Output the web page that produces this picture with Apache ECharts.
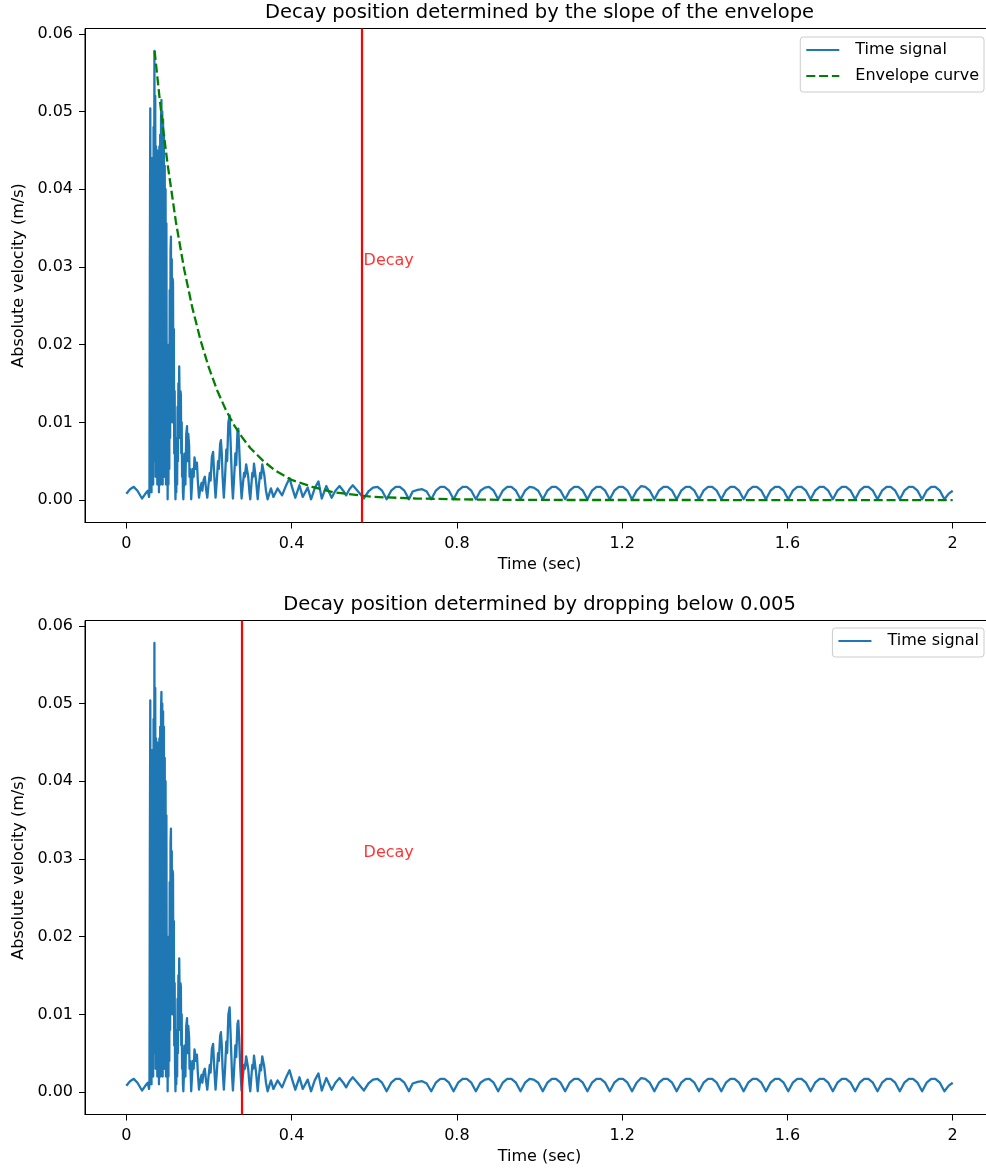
<!DOCTYPE html>
<html>
<head>
<meta charset="utf-8">
<title>Decay position</title>
<script src="https://cdn.jsdelivr.net/npm/echarts@6/dist/echarts.min.js"></script>
<style>
  html, body { margin: 0; padding: 0; background: #fff; }
  #chart { width: 986px; height: 1168px; }
</style>
</head>
<body>
<div id="chart"></div>
<script>
  // tick labels
  const timeTicks = [0, 0.4, 0.8, 1.2, 1.6, 2];
  const velocityTicks = [0, 0.01, 0.02, 0.03, 0.04, 0.05, 0.06];

  // decay positions (sec) and where the "Decay" text sits
  const slopeDecayTime = 0.573;
  const thresholdDecayTime = 0.278;
  const decayLabelPoint = [0.573, 0.03];

  // time signal, [t, |v|]
  const preImpactSignal = [
    [0.000, 0.0008], [0.009, 0.0014], [0.018, 0.0017], [0.027, 0.0012], [0.038, 0.0002],
    [0.046, 0.0008], [0.052, 0.0012], [0.055, 0.0004]
  ];
  const impactSignal = [
    [0.056, 0.0010], [0.057, 0.0300], [0.058, 0.0504], [0.059, 0.0030], [0.060, 0.0400],
    [0.061, 0.0010], [0.062, 0.0440], [0.063, 0.0060], [0.064, 0.0416], [0.065, 0.0020],
    [0.066, 0.0480], [0.067, 0.0050], [0.068, 0.0578], [0.069, 0.0100], [0.070, 0.0520],
    [0.071, 0.0030], [0.072, 0.0455], [0.073, 0.0080], [0.074, 0.0450], [0.075, 0.0020],
    [0.076, 0.0440], [0.077, 0.0060], [0.078, 0.0450], [0.079, 0.0010], [0.080, 0.0455],
    [0.081, 0.0070], [0.082, 0.0470], [0.083, 0.0020], [0.084, 0.0490], [0.085, 0.0515],
    [0.086, 0.0040], [0.087, 0.0500], [0.088, 0.0020], [0.089, 0.0490], [0.090, 0.0080],
    [0.091, 0.0470], [0.092, 0.0030], [0.093, 0.0430], [0.094, 0.0060], [0.095, 0.0400],
    [0.096, 0.0020], [0.097, 0.0356], [0.098, 0.0050], [0.099, 0.0200], [0.100, 0.0001],
    [0.101, 0.0100], [0.102, 0.0020], [0.103, 0.0200], [0.104, 0.0040], [0.105, 0.0270],
    [0.106, 0.0080], [0.107, 0.0320], [0.108, 0.0339], [0.109, 0.0150], [0.110, 0.0310],
    [0.111, 0.0100], [0.112, 0.0285], [0.113, 0.0280], [0.114, 0.0120], [0.115, 0.0220],
    [0.116, 0.0060], [0.117, 0.0140], [0.118, 0.0030], [0.119, 0.0001],
    [0.120, 0.0040], [0.121, 0.0010], [0.122, 0.0080], [0.123, 0.0020], [0.124, 0.0120],
    [0.125, 0.0050], [0.126, 0.0150], [0.127, 0.0080], [0.128, 0.0172], [0.129, 0.0170],
    [0.130, 0.0080], [0.131, 0.0140], [0.132, 0.0136], [0.133, 0.0060], [0.134, 0.0100],
    [0.135, 0.0030], [0.136, 0.0060], [0.137, 0.0010], [0.138, 0.0001],
    [0.140, 0.0030], [0.142, 0.0060], [0.143, 0.0020], [0.145, 0.0085], [0.147, 0.0095],
    [0.148, 0.0050], [0.150, 0.0085], [0.152, 0.0070], [0.153, 0.0030], [0.155, 0.0040],
    [0.157, 0.0001],
    [0.159, 0.0020], [0.161, 0.0040], [0.163, 0.0030], [0.165, 0.0055], [0.167, 0.0057],
    [0.169, 0.0040], [0.171, 0.0048], [0.173, 0.0025], [0.175, 0.0010], [0.176, 0.0003],
    [0.179, 0.0015], [0.182, 0.0022], [0.184, 0.0012], [0.187, 0.0026], [0.190, 0.0030],
    [0.193, 0.0014], [0.196, 0.0003],
    [0.199, 0.0020], [0.202, 0.0035], [0.204, 0.0025], [0.207, 0.0055], [0.210, 0.0062],
    [0.212, 0.0040], [0.214, 0.0020], [0.216, 0.0003],
    [0.219, 0.0025], [0.222, 0.0050], [0.224, 0.0040], [0.227, 0.0072], [0.229, 0.0077],
    [0.231, 0.0060], [0.233, 0.0030], [0.236, 0.0003],
    [0.239, 0.0030], [0.242, 0.0065], [0.244, 0.0050], [0.247, 0.0100], [0.250, 0.0109],
    [0.252, 0.0080], [0.254, 0.0050], [0.256, 0.0020], [0.258, 0.0002],
    [0.261, 0.0030], [0.264, 0.0060], [0.266, 0.0045], [0.269, 0.0088], [0.271, 0.0092],
    [0.273, 0.0070], [0.276, 0.0030], [0.279, 0.0002],
    [0.282, 0.0020], [0.285, 0.0035], [0.287, 0.0030], [0.290, 0.0046], [0.292, 0.0048],
    [0.295, 0.0030], [0.298, 0.0010], [0.300, 0.0001],
    [0.303, 0.0022], [0.305, 0.0035], [0.307, 0.0030], [0.309, 0.0047], [0.311, 0.0049],
    [0.314, 0.0025], [0.318, 0.0001],
    [0.321, 0.0020], [0.324, 0.0035], [0.326, 0.0028], [0.329, 0.0046], [0.331, 0.0048],
    [0.334, 0.0032], [0.338, 0.0012], [0.342, 0.0001]
  ];
  const ringOutSignal = [
    [0.350, 0.0015], [0.356, 0.0004], [0.366, 0.0015], [0.377, 0.0006], [0.386, 0.0018],
    [0.395, 0.0028], [0.402, 0.0015], [0.409, 0.0003], [0.419, 0.0019], [0.427, 0.0004],
    [0.439, 0.0016], [0.447, 0.0001], [0.456, 0.0015], [0.465, 0.0024], [0.473, 0.0002],
    [0.484, 0.0018], [0.497, 0.0003], [0.506, 0.0012], [0.516, 0.0018], [0.525, 0.0012],
    [0.532, 0.0006], [0.540, 0.0014], [0.548, 0.0019], [0.558, 0.0013]
  ];
  const tailSignal = [
    [0.575, 0.0002], [0.586, 0.0011], [0.597, 0.0016], [0.608, 0.0017], [0.619, 0.0012],
    [0.630, 0.0001], [0.641, 0.0012], [0.652, 0.0017], [0.662, 0.0017], [0.673, 0.0012],
    [0.684, 0.0001], [0.693, 0.0011], [0.705, 0.0013], [0.716, 0.0014], [0.727, 0.0011],
    [0.738, 0.0001], [0.749, 0.0012], [0.760, 0.0017], [0.770, 0.0017], [0.781, 0.0012],
    [0.792, 0.0001], [0.803, 0.0012], [0.814, 0.0017], [0.824, 0.0017], [0.835, 0.0012],
    [0.846, 0.0001], [0.857, 0.0012], [0.868, 0.0016], [0.878, 0.0017], [0.889, 0.0012],
    [0.900, 0.0001], [0.911, 0.0012], [0.922, 0.0017], [0.932, 0.0017], [0.943, 0.0012],
    [0.954, 0.0001], [0.965, 0.0012], [0.976, 0.0017], [0.986, 0.0016], [0.997, 0.0012],
    [1.008, 0.0001], [1.019, 0.0012], [1.030, 0.0017], [1.040, 0.0017], [1.051, 0.0012],
    [1.062, 0.0001], [1.073, 0.0012], [1.084, 0.0017], [1.094, 0.0017], [1.105, 0.0012],
    [1.116, 0.0001], [1.127, 0.0012], [1.138, 0.0017], [1.148, 0.0017], [1.159, 0.0012],
    [1.170, 0.0001], [1.181, 0.0012], [1.192, 0.0017], [1.202, 0.0017], [1.213, 0.0012],
    [1.224, 0.0001], [1.235, 0.0012], [1.246, 0.0018], [1.256, 0.0017], [1.267, 0.0012],
    [1.278, 0.0001], [1.289, 0.0012], [1.300, 0.0017], [1.310, 0.0017], [1.321, 0.0012],
    [1.332, 0.0001], [1.343, 0.0012], [1.354, 0.0017], [1.364, 0.0017], [1.375, 0.0012],
    [1.386, 0.0001], [1.397, 0.0012], [1.408, 0.0017], [1.418, 0.0017], [1.429, 0.0012],
    [1.440, 0.0001], [1.451, 0.0012], [1.462, 0.0017], [1.472, 0.0017], [1.483, 0.0012],
    [1.494, 0.0001], [1.505, 0.0012], [1.516, 0.0017], [1.526, 0.0017], [1.537, 0.0012],
    [1.548, 0.0001], [1.559, 0.0012], [1.570, 0.0017], [1.580, 0.0017], [1.591, 0.0012],
    [1.602, 0.0001], [1.613, 0.0012], [1.624, 0.0017], [1.634, 0.0017], [1.645, 0.0012],
    [1.656, 0.0001], [1.667, 0.0012], [1.678, 0.0017], [1.688, 0.0017], [1.699, 0.0012],
    [1.710, 0.0001], [1.721, 0.0012], [1.732, 0.0017], [1.742, 0.0017], [1.753, 0.0012],
    [1.764, 0.0001], [1.775, 0.0012], [1.786, 0.0017], [1.796, 0.0017], [1.807, 0.0012],
    [1.818, 0.0001], [1.829, 0.0012], [1.840, 0.0017], [1.850, 0.0017], [1.861, 0.0012],
    [1.872, 0.0001], [1.883, 0.0012], [1.894, 0.0017], [1.904, 0.0017], [1.915, 0.0012],
    [1.926, 0.0001], [1.937, 0.0012], [1.948, 0.0017], [1.958, 0.0017], [1.969, 0.0012],
    [1.980, 0.0001], [1.990, 0.0008], [2.000, 0.0012]
  ];

  // envelope curve
  const envelopeCurve = [
    [0.0685, 0.0578], [0.08, 0.0520], [0.09, 0.0474], [0.10, 0.0432], [0.12, 0.0358],
    [0.14, 0.0297], [0.16, 0.0247], [0.18, 0.0205], [0.20, 0.0170], [0.22, 0.0141],
    [0.24, 0.0117], [0.26, 0.0097], [0.28, 0.0081], [0.30, 0.0067], [0.33, 0.0051],
    [0.36, 0.0038], [0.40, 0.0026], [0.45, 0.0017], [0.50, 0.0010], [0.55, 0.0007],
    [0.60, 0.0004], [0.70, 0.0002], [0.80, 0.0001], [0.90, 0.00003], [1.00, 0.00001],
    [1.50, 0], [2.00, 0]
  ];

  const timeSignal = preImpactSignal.concat(impactSignal, ringOutSignal, tailSignal);

  const font = 'DejaVu Sans';
  const grids = [
    { left: 85, top: 28.5, width: 909, height: 494 },
    { left: 85, top: 620.5, width: 909, height: 494 }
  ];

  function xAxisFor(i) {
    return {
      type: 'value', gridIndex: i, min: -0.1, max: 2.1,
      name: 'Time (sec)', nameLocation: 'middle', nameGap: 34,
      nameTextStyle: { fontSize: 16, color: '#000', fontFamily: font },
      axisLine: { show: true, onZero: false, lineStyle: { color: '#000', width: 1 } },
      axisTick: { show: true, length: 6, customValues: timeTicks, lineStyle: { color: '#000', width: 1 } },
      axisLabel: { customValues: timeTicks, formatter: v => String(v), margin: 13, fontSize: 16, color: '#000', fontFamily: font },
      splitLine: { show: false }
    };
  }

  function yAxisFor(i) {
    return {
      type: 'value', gridIndex: i, min: -0.00289, max: 0.06069,
      name: 'Absolute velocity (m/s)', nameLocation: 'middle', nameGap: 57,
      nameTextStyle: { fontSize: 16, color: '#000', fontFamily: font },
      axisLine: { show: true, onZero: false, lineStyle: { color: '#000', width: 1 } },
      axisTick: { show: true, length: 6, customValues: velocityTicks, lineStyle: { color: '#000', width: 1 } },
      axisLabel: { customValues: velocityTicks, formatter: v => v.toFixed(2), margin: 12, fontSize: 16, color: '#000', fontFamily: font },
      splitLine: { show: false }
    };
  }

  function decayLine(t) {
    return {
      silent: true, symbol: ['none', 'none'], animation: false,
      label: { show: false },
      lineStyle: { color: '#ff0000', width: 2.2, type: 'solid' },
      emphasis: { disabled: true },
      data: [{ xAxis: t }]
    };
  }

  function decayText(i) {
    return {
      type: 'scatter', xAxisIndex: i, yAxisIndex: i, silent: true, z: 5,
      data: [decayLabelPoint], symbolSize: 1,
      itemStyle: { color: 'rgba(0,0,0,0)' },
      label: {
        show: true, formatter: 'Decay', position: 'right', distance: 0, offset: [0, -6],
        color: '#ff0000', fontSize: 16, fontFamily: font
      }
    };
  }

  const legendBase = {
    orient: 'vertical', right: 2, padding: [5, 5, 8, 5],
    itemWidth: 33, itemHeight: 14, itemGap: 10,
    itemStyle: { opacity: 0 },
    borderColor: '#cccccc', borderWidth: 1, borderRadius: 3,
    backgroundColor: 'rgba(255,255,255,0.8)',
    textStyle: { fontSize: 16, color: '#000', fontFamily: font, padding: [0, 0, 0, 11] }
  };

  const chart = echarts.init(document.getElementById('chart'), null, { renderer: 'canvas' });
  chart.setOption({
    animation: false,
    backgroundColor: '#fff',
    title: [
      {
        text: 'Decay position determined by the slope of the envelope',
        left: 539.5, top: 3, textAlign: 'center', padding: 0,
        textStyle: { fontSize: 19.5, fontWeight: 'normal', color: '#000', fontFamily: font }
      },
      {
        text: 'Decay position determined by dropping below 0.005',
        left: 539.5, top: 595, textAlign: 'center', padding: 0,
        textStyle: { fontSize: 19.5, fontWeight: 'normal', color: '#000', fontFamily: font }
      }
    ],
    legend: [
      Object.assign({}, legendBase, { top: 37, data: ['Time signal', 'Envelope curve'] }),
      Object.assign({}, legendBase, { top: 628, data: ['Time signal'] })
    ],
    grid: grids.map(g => Object.assign({
      show: true, borderColor: '#000', borderWidth: 1, containLabel: false, outerBoundsMode: 'none'
    }, g)),
    xAxis: [xAxisFor(0), xAxisFor(1)],
    yAxis: [yAxisFor(0), yAxisFor(1)],
    series: [
      {
        name: 'Time signal', type: 'line', xAxisIndex: 0, yAxisIndex: 0,
        data: timeSignal, symbol: 'none', showSymbol: false,
        itemStyle: { color: '#1f77b4' },
        lineStyle: { color: '#1f77b4', width: 2.3, join: 'round' }
      },
      {
        name: 'Envelope curve', type: 'line', xAxisIndex: 0, yAxisIndex: 0,
        data: envelopeCurve, symbol: 'none', showSymbol: false,
        itemStyle: { color: '#008000' },
        lineStyle: { color: '#008000', width: 2.3, type: [9, 3.8] },
        markLine: decayLine(slopeDecayTime)
      },
      decayText(0),
      {
        name: 'Time signal', type: 'line', xAxisIndex: 1, yAxisIndex: 1,
        data: timeSignal, symbol: 'none', showSymbol: false,
        itemStyle: { color: '#1f77b4' },
        lineStyle: { color: '#1f77b4', width: 2.3, join: 'round' },
        markLine: decayLine(thresholdDecayTime)
      },
      decayText(1)
    ]
  });
</script>
</body>
</html>
